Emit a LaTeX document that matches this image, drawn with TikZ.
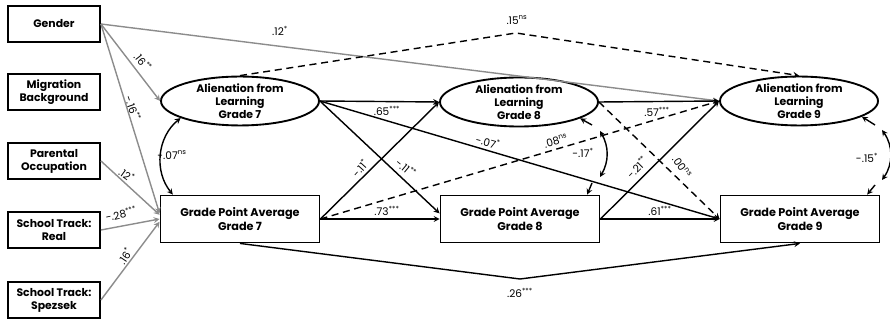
\documentclass[tikz,border=0pt]{standalone}
\usepackage{fontspec}
\setmainfont{Poppins}
\usetikzlibrary{shapes.geometric}

\begin{document}
\begin{tikzpicture}[x=0.03cm,y=-0.03cm,>=stealth]
		\tikzstyle{covariate}=[draw,line width=1.6pt,rectangle,minimum width=2.76cm,minimum height=1.08cm,align=center,inner sep=1pt,font=\fontsize{9.3}{11}\selectfont\bfseries]
		\tikzstyle{latent}=[draw,line width=1.6pt,ellipse,minimum width=4.74cm,minimum height=1.36cm,align=center,inner sep=0pt,font=\fontsize{9.3}{11}\selectfont\bfseries]
		\tikzstyle{gpa}=[draw,line width=1.6pt,rectangle,minimum width=4.77cm,minimum height=1.41cm,align=center,font=\fontsize{9.6}{11.5}\selectfont\bfseries]
		\tikzstyle{coef}=[inner sep=0pt,font=\fontsize{9}{10}\selectfont]
		\tikzstyle{mapsto}=[->,line width=1.2pt]
		\tikzstyle{control}=[->,line width=1.2pt,color=black!45]
		\tikzstyle{ns}=[->,line width=1.2pt,dash pattern=on 6pt off 4pt]
		\useasboundingbox (0,0) rectangle (890,320);
		% covariates
		\node [covariate] at (54,24) (gender) {Gender};
		\node [covariate] at (54,92) (migration) {Migration\\Background};
		\node [covariate] at (54,161) (parental) {Parental\\Occupation};
		\node [covariate] at (54,230) (real) {School Track:\\Real};
		\node [covariate] at (54,300) (spezsek) {School Track:\\Spezsek};
		% alienation
		\node [latent] at (240,101) (a7) {Alienation from\\Learning\\Grade 7};
		\node [latent] at (519,102) (a8) {Alienation from\\Learning\\Grade 8};
		\node [latent] at (799,101) (a9) {Alienation from\\Learning\\Grade 9};
		% grade point average
		\node [gpa] at (240,219) (gpa7) {Grade Point Average\\Grade 7};
		\node [gpa] at (520,219) (gpa8) {Grade Point Average\\Grade 8};
		\node [gpa] at (800,219) (gpa9) {Grade Point Average\\Grade 9};
		% control paths
		\draw [control] (gender.east) -- (a9.west);
		\draw [control] (gender.east) -- (a7.west);
		\draw [control] (gender.east) -- (gpa7.176);
		\draw [control] (parental.east) -- (gpa7.177);
		\draw [control] (real.east) -- (gpa7.west);
		\draw [control] (spezsek.east) -- (gpa7.182);
		\node [coef] at (280,31) (c-g9) {.12\textsuperscript{*}};
		\node [coef,rotate=-52] at (143,62) (c-g7) {.16\textsuperscript{**}};
		\node [coef,rotate=-71] at (133,108) (c-gg7) {-.16\textsuperscript{**}};
		\node [coef,rotate=-36] at (127,175) (c-p7) {.12\textsuperscript{*}};
		\node [coef,rotate=12] at (121,214) (c-r7) {-.28\textsuperscript{***}};
		\node [coef,rotate=56] at (125,256) (c-s7) {.16\textsuperscript{*}};
		% stability and cross-lagged paths
		\coordinate (top) at (516,33);
		\coordinate (bottom) at (520,279);
		\draw [ns] (a7.north) -- (top) -- (a9.north);
		\draw [mapsto] (gpa7.south) -- (bottom) -- (gpa9.south);
		\draw [mapsto] (a7.east) -- (a8.west);
		\draw [mapsto] (a7.east) -- (gpa8.176);
		\draw [mapsto] (a7.east) -- (gpa9.west);
		\draw [mapsto] (gpa7.east) -- (a8.west);
		\draw [mapsto] (gpa7.east) -- (gpa8.west);
		\draw [ns] (gpa7.east) -- (a9.west);
		\draw [mapsto] (a8.east) -- (a9.west);
		\draw [ns] (a8.east) -- (gpa9.west);
		\draw [mapsto] (gpa8.east) -- (a9.west);
		\draw [mapsto] (gpa8.east) -- (gpa9.west);
		\node [coef] at (517,20) (c-top) {.15\textsuperscript{ns}};
		\node [coef] at (520,293) (c-bottom) {.26\textsuperscript{***}};
		\node [coef] at (387,111) (c-a78) {.65\textsuperscript{***}};
		\node [coef,rotate=-40] at (406,168) (c-a7g8) {-.11\textsuperscript{**}};
		\node [coef,rotate=48] at (360,168) (c-g7a8) {-.11\textsuperscript{*}};
		\node [coef] at (387,211) (c-g78) {.73\textsuperscript{***}};
		\node [coef,rotate=-15] at (488,142) (c-a7g9) {-.07\textsuperscript{*}};
		\node [coef,rotate=16] at (556,141) (c-g7a9) {.08\textsuperscript{ns}};
		\node [coef] at (657,112) (c-a89) {.57\textsuperscript{***}};
		\node [coef,rotate=45] at (637,167) (c-g8a9) {-.21\textsuperscript{**}};
		\node [coef,rotate=-55] at (682,167) (c-a8g9) {.00\textsuperscript{ns}};
		\node [coef] at (660,211) (c-g89) {.61\textsuperscript{***}};
		% covariances
		\draw [<->,line width=1.2pt] (a7.196) to[bend right=45] (gpa7.160);
		\coordinate (k8a) at (592,125);
		\coordinate (k8b) at (592,183);
		\coordinate (k9a) at (875,125);
		\coordinate (k9b) at (875,185);
		\draw [mapsto] (k8a) -- (a8.345);
		\draw [mapsto] (k8b) -- (gpa8.20);
		\draw [<->,line width=1.2pt] ([shift={(8,6)}]k8a) to[bend left=30] ([shift={(8,-6)}]k8b);
		\draw [mapsto] (k9a) -- (a9.346);
		\draw [mapsto] (k9b) -- (gpa9.20);
		\draw [<->,line width=1.2pt] ([shift={(7,5)}]k9a) to[bend left=35] ([shift={(7,-5)}]k9b);
		\node [coef] at (172,155) (c-v7) {-.07\textsuperscript{ns}};
		\node [coef] at (583,153) (c-v8) {-.17\textsuperscript{*}};
		\node [coef] at (867,158) (c-v9) {-.15\textsuperscript{*}};
	\end{tikzpicture}
\end{document}
